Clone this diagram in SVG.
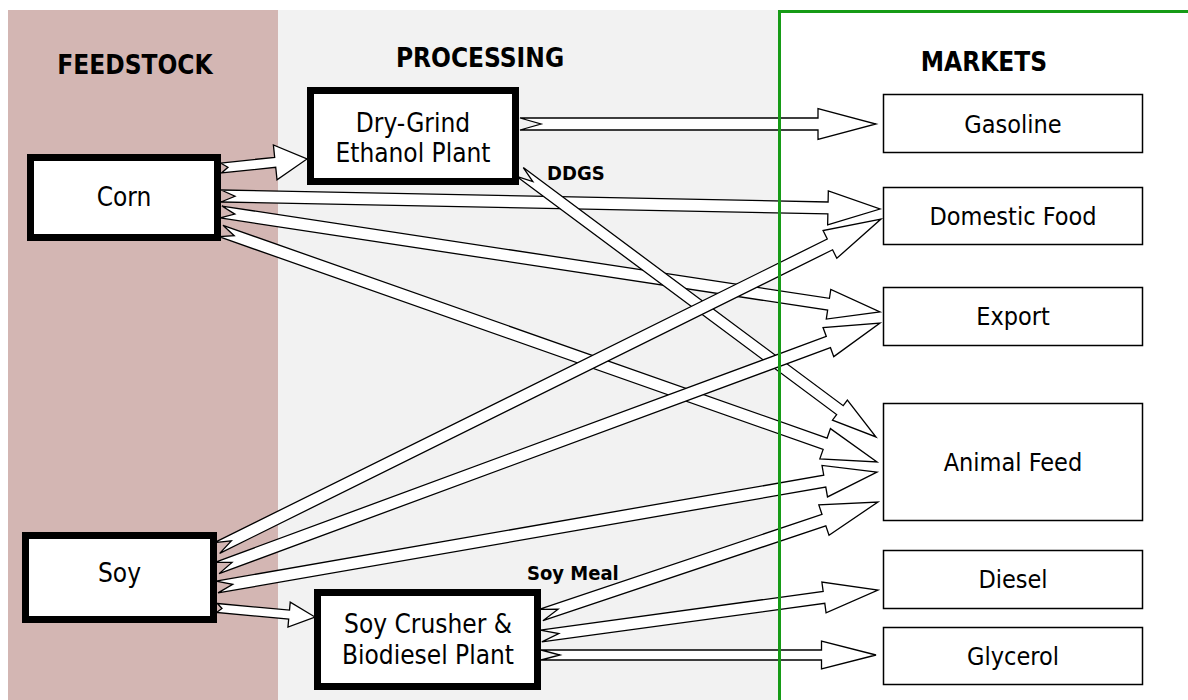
<svg xmlns="http://www.w3.org/2000/svg" width="1188" height="700" viewBox="0 0 1188 700">
<style>
text{font-family:'DejaVu Sans Condensed','DejaVu Sans',sans-serif;font-stretch:condensed;fill:#000;text-anchor:middle}
.hdr{font-size:26px;font-weight:bold}
.lbl{font-size:25px}
.big{font-size:26px}
.note{font-size:20px;font-weight:bold;text-anchor:start}
.thick{fill:#fff;stroke:#000;stroke-width:7}
.thin{fill:#fff;stroke:#000;stroke-width:1.5}
.arr{fill:#fff;stroke:#000;stroke-width:1.3;stroke-linejoin:miter}
</style>
<rect width="1188" height="700" fill="#fff"/>
<g id="backgrounds">
<rect x="8" y="10" width="270" height="690" fill="#d3b6b3"/>
<rect x="278" y="10" width="501" height="690" fill="#f2f2f2"/>
</g>
<g id="headers">
<text class="hdr" x="135" y="74">FEEDSTOCK</text>
<text class="hdr" x="480" y="67">PROCESSING</text>
<text class="hdr" x="984" y="71">MARKETS</text>
</g>
<g id="connectors">
<path class="arr" transform="translate(221,168) rotate(-5.97)" d="M0,-5 H54.5 V-17.5 L86.5,0 L54.5,17.5 V5 H0 L7,0 Z"/>
<path class="arr" transform="translate(221,196) rotate(1.13)" d="M0,-6 H607.1 V-17 L659.1,0 L607.1,17 V6 H0 L14,0 Z"/>
<path class="arr" transform="translate(221,212) rotate(8.63)" d="M0,-6 H614.5 V-15 L666.5,0 L614.5,15 V6 H0 L14,0 Z"/>
<path class="arr" transform="translate(221,231) rotate(19.40)" d="M0,-6 H640.5 V-16 L695.5,0 L640.5,16 V6 H0 L14,0 Z"/>
<path class="arr" transform="translate(520,124)" d="M0,-6 H298 V-15.5 L356,0 L298,15.5 V6 H0 L21,0 Z"/>
<path class="arr" transform="translate(520,172) rotate(36.66)" d="M0,-5.5 H398.8 V-12.5 L443.8,0 L398.8,12.5 V5.5 H0 L16,0 Z"/>
<path class="arr" transform="translate(217,548) rotate(-26.35)" d="M0,-6 H684 V-15.5 L741,0 L684,15.5 V6 H0 L16,0 Z"/>
<path class="arr" transform="translate(217,568) rotate(-20.28)" d="M0,-6 H651.8 V-15.5 L706.8,0 L651.8,15.5 V6 H0 L16,0 Z"/>
<path class="arr" transform="translate(217,587) rotate(-9.88)" d="M0,-6 H616.9 V-16 L669.9,0 L616.9,16 V6 H0 L16,0 Z"/>
<path class="arr" transform="translate(217,608) rotate(5.25)" d="M0,-4.5 H72.4 V-12.5 L98.4,0 L72.4,12.5 V4.5 H0 L5,0 Z"/>
<path class="arr" transform="translate(541,615) rotate(-18.54)" d="M0,-6 H298.4 V-16 L355.4,0 L298.4,16 V6 H0 L18,0 Z"/>
<path class="arr" transform="translate(541,636) rotate(-7.77)" d="M0,-6 H285.6 V-15.5 L340.1,0 L285.6,15.5 V6 H0 L18,0 Z"/>
<path class="arr" transform="translate(541,655)" d="M0,-5 H280.5 V-14 L335,0 L280.5,14 V5 H0 L19,0 Z"/>
</g>
<g id="divider" fill="none" stroke="#169b16" stroke-width="3">
<path d="M779.5,700 V11.5 H1188"/>
</g>
<g id="corn"><rect class="thick" x="30.5" y="157.5" width="187" height="80"/><text class="big" x="124" y="206">Corn</text></g>
<g id="soy"><rect class="thick" x="25.5" y="535.5" width="188" height="84"/><text class="big" x="119.5" y="582">Soy</text></g>
<g id="dry-grind"><rect class="thick" x="310.5" y="90.5" width="205" height="91"/><text class="big" x="413" y="132">Dry-Grind</text><text class="big" x="413" y="162">Ethanol Plant</text></g>
<g id="soy-crusher"><rect class="thick" x="317.5" y="592.5" width="220" height="94"/><text class="big" x="428" y="633">Soy Crusher &amp;</text><text class="big" x="428" y="664">Biodiesel Plant</text></g>
<g id="gasoline"><rect class="thin" x="883.5" y="94.5" width="259" height="58"/><text class="lbl" x="1013" y="133">Gasoline</text></g>
<g id="domestic-food"><rect class="thin" x="883.5" y="187.5" width="259" height="57"/><text class="lbl" x="1013" y="224.5">Domestic Food</text></g>
<g id="export"><rect class="thin" x="883.5" y="287.5" width="259" height="58"/><text class="lbl" x="1013" y="325">Export</text></g>
<g id="animal-feed"><rect class="thin" x="883.5" y="403.5" width="259" height="117"/><text class="lbl" x="1013" y="470.5">Animal Feed</text></g>
<g id="diesel"><rect class="thin" x="883.5" y="550.5" width="259" height="58"/><text class="lbl" x="1013" y="588">Diesel</text></g>
<g id="glycerol"><rect class="thin" x="883.5" y="627.5" width="259" height="57"/><text class="lbl" x="1013" y="665">Glycerol</text></g>
<g id="labels">
<text class="note" x="547" y="180">DDGS</text>
<text class="note" x="527" y="580">Soy Meal</text>
</g>
</svg>
